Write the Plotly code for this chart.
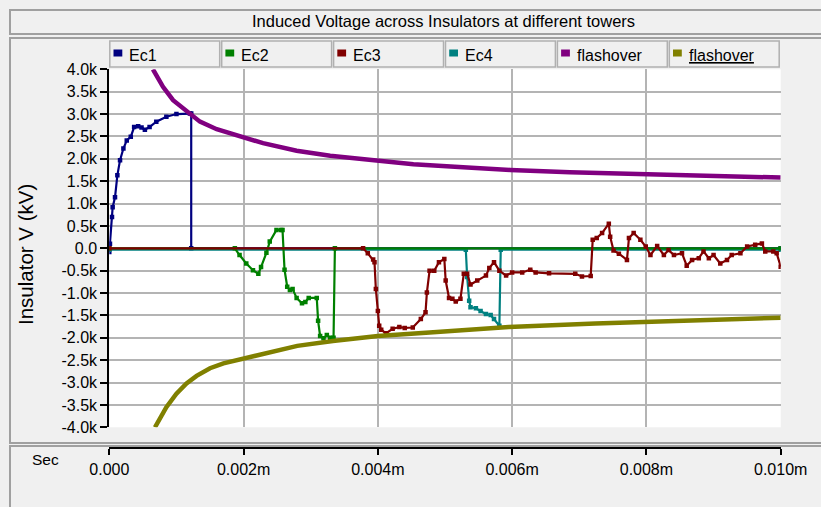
import plotly.graph_objects as go

W, H = 821, 507

# ---------------- data (time in s, voltage in kV) ----------------
ec1_t = [0, 0.00001, 0.00004, 0.00005, 0.000085, 0.00012, 0.00016, 0.00021, 0.00026,
         0.00032, 0.00037, 0.00043, 0.00048, 0.00053, 0.0006, 0.0007, 0.00085, 0.001,
         0.0012, 0.00122, 0.00122, 0.01]
ec1_v = [-0.08, 0.1, 0.70, 0.92, 1.14, 1.63, 1.97, 2.23, 2.41,
         2.49, 2.71, 2.73, 2.70, 2.65, 2.71, 2.83, 2.94, 3.0,
         3.01, 3.01, 0.0, 0.0]

ec2_t = [0, 0.00187, 0.00194, 0.00204, 0.00214, 0.00222, 0.00226, 0.00234, 0.00239,
         0.00249, 0.00256, 0.00258, 0.00261, 0.00265, 0.00269, 0.00273, 0.00279,
         0.00287, 0.00292, 0.00297, 0.00309, 0.00311, 0.00314, 0.00319, 0.00324,
         0.00329, 0.00334, 0.00336, 0.01]
ec2_v = [0, 0, -0.15, -0.34, -0.49, -0.57, -0.42, -0.10, 0.15,
         0.41, 0.41, 0.41, -0.48, -0.86, -0.93, -0.91, -1.11,
         -1.23, -1.20, -1.11, -1.11, -1.62, -1.96, -2.01, -1.94,
         -2.0, -2.0, 0, 0]

ec3_t = [0, 0.00378, 0.00385, 0.00393, 0.00395, 0.00397, 0.00400, 0.00402, 0.00405,
         0.00412, 0.00422, 0.00432, 0.00440, 0.00452, 0.00464, 0.00471, 0.00473,
         0.00477, 0.00484, 0.00491, 0.00499, 0.00501, 0.00506, 0.00511, 0.00516,
         0.00523, 0.00528, 0.00533, 0.00538, 0.00548, 0.00561, 0.00566, 0.00573,
         0.00581, 0.00591, 0.00600, 0.00615, 0.00627, 0.00635, 0.00655, 0.00694,
         0.00704, 0.00717, 0.00720, 0.00726, 0.00734, 0.00744, 0.00746, 0.00751,
         0.00759, 0.00771, 0.00774, 0.00781, 0.00791, 0.00799, 0.00806, 0.00816,
         0.00826, 0.00833, 0.00841, 0.00853, 0.00860, 0.00868, 0.00878, 0.00885,
         0.00893, 0.00900, 0.00910, 0.00920, 0.00927, 0.00940, 0.00950, 0.00962,
         0.00972, 0.00977, 0.00989, 0.00994, 0.01000]
ec3_v = [0, 0, -0.11, -0.25, -0.31, -0.91, -1.40, -1.73, -1.82,
         -1.90, -1.80, -1.76, -1.78, -1.77, -1.58, -1.43, -0.99,
         -0.50, -0.50, -0.31, -0.24, -0.72, -1.11, -1.13, -1.19,
         -1.13, -0.57, -0.57, -0.81, -0.72, -0.61, -0.44, -0.31,
         -0.50, -0.61, -0.54, -0.54, -0.48, -0.54, -0.56, -0.57,
         -0.63, -0.62, 0.19, 0.23, 0.34, 0.55, 0.26, -0.05,
         -0.12, -0.26, 0.23, 0.34, 0.19, 0.04, -0.15, 0.05,
         -0.15, -0.04, -0.15, -0.11, -0.39, -0.26, -0.22, -0.07,
         -0.22, -0.15, -0.34, -0.26, -0.15, -0.11, 0.04, 0.08,
         0.11, -0.07, -0.07, -0.11, -0.41]

ec4_t = [0, 0.00531, 0.00533, 0.00536, 0.00538, 0.00546, 0.00553, 0.00561, 0.00568,
         0.00573, 0.00581, 0.00583, 0.01]
ec4_v = [-0.03, -0.03, -0.64, -1.17, -1.32, -1.34, -1.40, -1.47, -1.49,
         -1.58, -1.73, -0.03, -0.03]

fo_pos_t = [0.00065, 0.0008, 0.00095, 0.0011, 0.0012, 0.00135, 0.0016, 0.0018, 0.002,
            0.00229, 0.00279, 0.00329, 0.00398, 0.00453, 0.00527, 0.00597, 0.00686,
            0.00751, 0.00835, 0.00934, 0.010]
fo_pos_v = [4.0, 3.61, 3.31, 3.12, 3.01, 2.83, 2.66, 2.57, 2.46,
            2.35, 2.18, 2.07, 1.96, 1.88, 1.81, 1.75, 1.70,
            1.68, 1.64, 1.60, 1.58]

fo_neg_t = [0.00068, 0.00085, 0.00100, 0.00115, 0.00130, 0.00150, 0.00170, 0.00194,
            0.00230, 0.00280, 0.00333, 0.00400, 0.00477, 0.00595, 0.00724, 0.00850, 0.01000]
fo_neg_v = [-4.0, -3.55, -3.25, -3.02, -2.85, -2.68, -2.57, -2.48,
            -2.35, -2.18, -2.07, -1.96, -1.88, -1.76, -1.68, -1.62, -1.55]

x_tickvals = [0, 0.002, 0.004, 0.006, 0.008, 0.010]
x_ticktext = ["0.000", "0.002m", "0.004m", "0.006m", "0.008m", "0.010m"]
y_tickvals = [4.0, 3.5, 3.0, 2.5, 2.0, 1.5, 1.0, 0.5, 0.0,
              -0.5, -1.0, -1.5, -2.0, -2.5, -3.0, -3.5, -4.0]
y_ticktext = ["4.0k", "3.5k", "3.0k", "2.5k", "2.0k", "1.5k", "1.0k", "0.5k", "0.0",
              "-0.5k", "-1.0k", "-1.5k", "-2.0k", "-2.5k", "-3.0k", "-3.5k", "-4.0k"]

legend_names = ["Ec1", "Ec2", "Ec3", "Ec4", "flashover", "<u>flashover</u>"]
colors = ["#000080", "#008000", "#800000", "#008080", "#800080", "#808000"]

FONT = "Liberation Sans, Arial, sans-serif"

def px(x):
    return x / W

def py(y):
    return 1 - y / H

fig = go.Figure()

series = {0: (ec1_t, ec1_v), 1: (ec2_t, ec2_v), 2: (ec3_t, ec3_v), 3: (ec4_t, ec4_v)}
for i in [0, 3, 1, 2]:
    t, v = series[i]
    fig.add_trace(go.Scatter(
        x=t, y=v, name=legend_names[i], mode="lines+markers",
        line=dict(color=colors[i], width=2.2),
        marker=dict(symbol="square", size=4.5, color=colors[i]),
        showlegend=False, cliponaxis=True))

fig.add_trace(go.Scatter(x=fo_pos_t, y=fo_pos_v, name="flashover", mode="lines",
                         line=dict(color=colors[4], width=4.5), showlegend=False))
fig.add_trace(go.Scatter(x=fo_neg_t, y=fo_neg_v, name="flashover", mode="lines",
                         line=dict(color=colors[5], width=4.5), showlegend=False))

shapes = []
# panels
shapes.append(dict(type="rect", xref="paper", yref="paper", x0=px(10), x1=px(830),
                   y0=py(34), y1=py(10), line=dict(color="#a0a0a0", width=2), layer="below"))
shapes.append(dict(type="rect", xref="paper", yref="paper", x0=px(10), x1=px(830),
                   y0=py(443), y1=py(38), line=dict(color="#a0a0a0", width=2), layer="below"))
shapes.append(dict(type="rect", xref="paper", yref="paper", x0=px(10), x1=px(830),
                   y0=py(530), y1=py(446), line=dict(color="#a0a0a0", width=2), layer="below"))

annotations = []
slot = (780.7 - 109.3) / 6
for i, name in enumerate(legend_names):
    bx0 = 109.3 + i * slot + 0.5
    bx1 = bx0 + slot - 2
    shapes.append(dict(type="rect", xref="paper", yref="paper", x0=px(bx0), x1=px(bx1),
                       y0=py(67), y1=py(41), fillcolor="#f0f0f0",
                       line=dict(color="#b0b0b0", width=1.5)))
    shapes.append(dict(type="rect", xref="paper", yref="paper", x0=px(bx0 + 3.7),
                       x1=px(bx0 + 12.5), y0=py(56.5), y1=py(49.5),
                       fillcolor=colors[i], line=dict(width=0)))
    annotations.append(dict(text=name, xref="paper", yref="paper", x=px(bx0 + 17.5),
                            y=py(55.5), xanchor="left", yanchor="middle", showarrow=False,
                            font=dict(family=FONT, size=16, color="black")))

annotations.append(dict(text="Induced Voltage across Insulators at different towers",
                        xref="paper", yref="paper", x=px(443), y=py(21.5),
                        xanchor="center", yanchor="middle", showarrow=False,
                        font=dict(family=FONT, size=16.5, color="black")))
annotations.append(dict(text="Insulator V (kV)", xref="paper", yref="paper",
                        x=px(25), y=py(255), xanchor="center", yanchor="middle",
                        textangle=-90, showarrow=False,
                        font=dict(family=FONT, size=20.5, color="black")))
annotations.append(dict(text="Sec", xref="paper", yref="paper", x=px(45), y=py(459),
                        xanchor="center", yanchor="middle", showarrow=False,
                        font=dict(family=FONT, size=15.5, color="black")))

fig.update_layout(
    width=W, height=H,
    margin=dict(l=0, r=0, t=0, b=0, pad=0),
    paper_bgcolor="#f0f0f0", plot_bgcolor="white",
    font=dict(family=FONT, size=16, color="black"),
    showlegend=False,
    shapes=shapes, annotations=annotations,
    xaxis=dict(domain=[px(109.3), px(780.7)], range=[0, 0.01],
               tickvals=x_tickvals, ticktext=x_ticktext,
               showgrid=True, gridcolor="#b4b4b4", gridwidth=2,
               zeroline=False, showline=True, linecolor="black", linewidth=2,
               ticks="outside", ticklen=6, tickwidth=1.5, tickcolor="black",
               tickfont=dict(family=FONT, size=16, color="black"),
               anchor="free", position=py(448.3), automargin=False, fixedrange=True),
    yaxis=dict(domain=[py(427.3), py(69.3)], range=[-4, 4],
               tickvals=y_tickvals, ticktext=y_ticktext,
               showgrid=True, gridcolor="#b4b4b4", gridwidth=2,
               zeroline=False, showline=True, linecolor="black", linewidth=2,
               ticks="outside", ticklen=7, tickwidth=1.5, tickcolor="black",
               tickfont=dict(family=FONT, size=16, color="black"),
               automargin=False, fixedrange=True),
)

fig.write_html(
    "out.html",
    config={"displayModeBar": False},
    post_script="document.body.style.margin='0';document.body.style.overflow='hidden';",
)
